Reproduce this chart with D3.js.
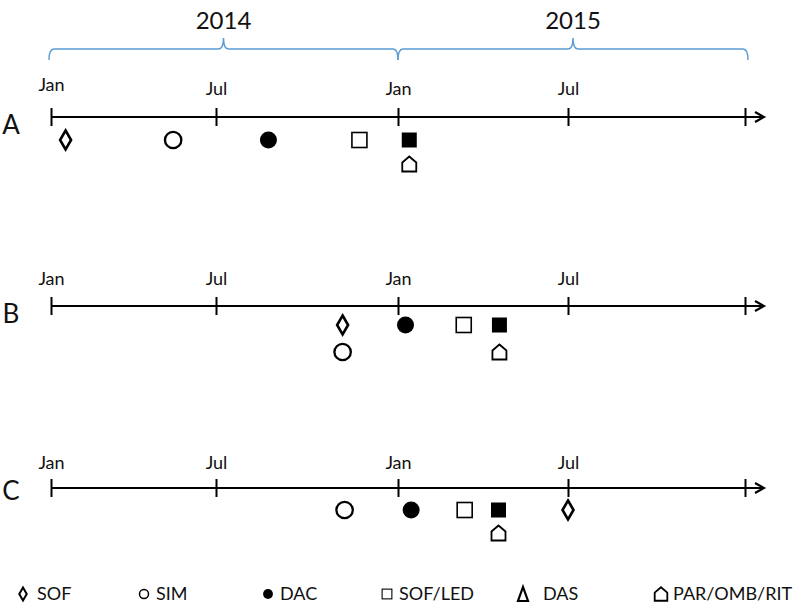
<!DOCTYPE html>
<html>
<head>
<meta charset="utf-8">
<script src="https://cdn.jsdelivr.net/npm/d3@7"></script>
<style>
  html, body { margin: 0; padding: 0; background: #fff; }
  svg { display: block; font-family: Lato, "Open Sans", sans-serif; }
</style>
</head>
<body>
<svg id="chart" width="799" height="610"></svg>
<script>
// ---------------- DATA ----------------
const years = [2014, 2015];
const tickDates = ["2014-01-01", "2014-07-01", "2015-01-01", "2015-07-01", "2016-01-01"];
const tickLabels = ["Jan", "Jul", "Jan", "Jul", ""];
const rowNames = ["A", "B", "C"];
const drugs = ["SOF", "SIM", "DAC", "SOF/LED", "DAS", "PAR/OMB/RIT"];
const legendSymbols = ["diamond", "circle", "dot", "square", "delta", "house"];
const markerShapes = ["diamond", "circle", "dot", "square", "filledSquare", "house"];
// dates per row, in drug order
const datesA = ["2014-01-17", "2014-05-15", "2014-08-23", "2014-11-23", "2015-01-13", "2015-01-13"];
const datesB = ["2014-11-06", "2014-11-06", "2015-01-09", "2015-03-12", "2015-04-19", "2015-04-19"];
const datesC = ["2015-07-01", "2014-11-08", "2015-01-15", "2015-03-13", "2015-04-18", "2015-04-18"];
// stacking level (0 = first line below axis, 1 = second line)
const levelsA = [0, 0, 0, 0, 0, 1];
const levelsB = [0, 1, 0, 0, 0, 1];
const levelsC = [0, 0, 0, 0, 0, 1];

// ---------------- LAYOUT ----------------
const rowLayout = {
  A: { y: 117, labelDy: 17, tickLabelDy: -22, firstLabelDy: -26, lv: [23, 47] },
  B: { y: 306, labelDy: 17, tickLabelDy: -21, firstLabelDy: -21, lv: [19, 46] },
  C: { y: 488, labelDy: 12, tickLabelDy: -19, firstLabelDy: -19, lv: [22, 45] }
};
const legendX = [23, 144, 268, 387, 523, 661];
const legendY = 594;
const blue = "#5B9BD5";

const parse = d3.timeParse("%Y-%m-%d");
const svg = d3.select("#chart");

// piecewise time scale (half-year breakpoints as in the drawing)
const x = d3.scaleTime()
  .domain(tickDates.map(parse))
  .range([51, 216, 398, 568, 745]);

// ---------------- YEAR BRACES ----------------
const braceG = svg.append("g");
years.forEach(yr => {
  const x0 = x(parse(yr + "-01-01")) - (yr === 2014 ? 2 : 0);
  const x1 = x(parse((yr + 1) + "-01-01")) + (yr === 2015 ? 3 : 0);
  const mid = (x0 + x1) / 2;
  const yb = 49, yEnd = 60, yTip = 38;
  const p = d3.path();
  p.moveTo(x0, yEnd);
  p.quadraticCurveTo(x0, yb, x0 + 5, yb);
  p.lineTo(mid - 5, yb);
  p.quadraticCurveTo(mid, yb, mid, yTip);
  p.quadraticCurveTo(mid, yb, mid + 5, yb);
  p.lineTo(x1 - 5, yb);
  p.quadraticCurveTo(x1, yb, x1, yEnd);
  braceG.append("path").attr("d", p.toString())
    .attr("fill", "none").attr("stroke", blue).attr("stroke-width", 1.5);
  braceG.append("text").attr("x", mid).attr("y", 29)
    .attr("text-anchor", "middle").attr("font-size", 24).attr("fill", "#111")
    .text(yr);
});

// ---------------- SHAPES ----------------
function drawShape(g, type, s) {
  switch (type) {
    case "diamond":
      g.append("path")
        .attr("d", `M0,${-9.5*s} L${5.5*s},0 L0,${9.5*s} L${-5.5*s},0 Z`)
        .attr("fill", "#fff").attr("stroke", "#000").attr("stroke-width", s < 1 ? 2 : 2.6)
        .attr("stroke-linejoin", "miter");
      break;
    case "circle":
      g.append("circle").attr("r", 8.2*s)
        .attr("fill", "#fff").attr("stroke", "#000").attr("stroke-width", s < 1 ? 1.5 : 2.3);
      break;
    case "dot":
      g.append("circle").attr("r", 8.5*s).attr("fill", "#000");
      break;
    case "square":
      g.append("rect").attr("x", -7.5*s).attr("y", -7.5*s)
        .attr("width", 15*s).attr("height", 15*s)
        .attr("fill", "#fff").attr("stroke", "#000").attr("stroke-width", s < 1 ? 1.1 : 1.6);
      break;
    case "filledSquare":
      g.append("rect").attr("x", -7.5*s).attr("y", -7.5*s)
        .attr("width", 15*s).attr("height", 15*s).attr("fill", "#000");
      break;
    case "house":
      g.append("path")
        .attr("d", `M${-7*s},${7.5*s} L${7*s},${7.5*s} L${7*s},${-1.5*s} L0,${-7.5*s} L${-7*s},${-1.5*s} Z`)
        .attr("fill", "#fff").attr("stroke", "#000").attr("stroke-width", 1.8)
        .attr("stroke-linejoin", "miter");
      break;
    case "delta":
      g.append("path")
        .attr("d", `M${-5*s},${7*s} L${5*s},${7*s} L0,${-7*s} Z`)
        .attr("fill", "none").attr("stroke", "#000").attr("stroke-width", 2.2);
      break;
  }
}

// ---------------- ROWS ----------------
const rowData = {
  A: { dates: datesA, levels: levelsA },
  B: { dates: datesB, levels: levelsB },
  C: { dates: datesC, levels: levelsC }
};

rowNames.forEach(name => {
  const L = rowLayout[name];
  const g = svg.append("g").attr("transform", `translate(0,${L.y})`);

  g.append("text").attr("x", 11).attr("y", L.labelDy)
    .attr("text-anchor", "middle").attr("font-size", 26).attr("fill", "#111")
    .text(name);

  const xEnd = x.range()[x.range().length - 1];
  g.append("line").attr("x1", x.range()[0]).attr("x2", xEnd + 19)
    .attr("y1", 0).attr("y2", 0).attr("stroke", "#000").attr("stroke-width", 2);
  g.append("path")
    .attr("d", `M${xEnd + 10},-5 L${xEnd + 19},0 L${xEnd + 10},5`)
    .attr("fill", "none").attr("stroke", "#000").attr("stroke-width", 2.2);

  const axis = d3.axisTop(x)
    .tickValues(tickDates.map(parse))
    .tickSizeInner(9).tickSizeOuter(0)
    .tickFormat((d, i) => tickLabels[i]);
  const ag = g.append("g").call(axis);
  ag.select(".domain").remove();
  ag.selectAll(".tick line").attr("y1", -9).attr("y2", 9)
    .attr("stroke", "#000").attr("stroke-width", 2);
  ag.selectAll(".tick text")
    .attr("y", (d, i) => i === 0 ? L.firstLabelDy : L.tickLabelDy).attr("dy", 0)
    .attr("font-size", 18).attr("font-family", "Lato, sans-serif").attr("fill", "#111");

  const rd = rowData[name];
  drugs.forEach((drug, i) => {
    const d = rd.dates[i];
    if (!d) return;
    const mg = g.append("g")
      .attr("transform", `translate(${x(parse(d))},${L.lv[rd.levels[i]]})`);
    drawShape(mg, markerShapes[i], 1);
  });
});

// ---------------- LEGEND ----------------
drugs.forEach((drug, i) => {
  const g = svg.append("g").attr("transform", `translate(${legendX[i]},${legendY})`);
  const s = legendSymbols[i];
  const scale = { diamond: 0.68, circle: 0.55, dot: 0.58, square: 0.65, delta: 1, house: 0.9 }[s];
  drawShape(g, s, scale);
  g.append("text").attr("x", s === "delta" ? 20 : (s === "diamond" ? 14 : 12)).attr("y", 6)
    .attr("font-size", 18).attr("fill", "#111").text(drug);
});
</script>
</body>
</html>
